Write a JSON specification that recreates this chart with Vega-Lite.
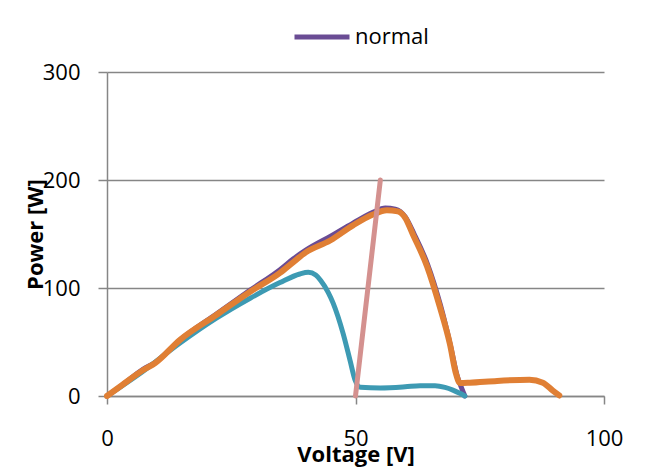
{
  "$schema": "https://vega.github.io/schema/vega-lite/v6.json",
  "width": 497,
  "height": 324,
  "autosize": {"type": "none"},
  "padding": {"left": 107, "top": 72, "right": 51, "bottom": 73},
  "background": "white",
  "config": {
    "view": {"stroke": null},
    "font": "Open Sans",
    "axis": {
      "domainColor": "#868686",
      "domainWidth": 1.5,
      "tickColor": "#868686",
      "tickWidth": 1.5,
      "tickSize": 8,
      "gridColor": "#868686",
      "gridWidth": 1.5,
      "labelFont": "Open Sans",
      "labelFontSize": 22,
      "labelColor": "#000000",
      "labelFlush": false,
      "titleFont": "Open Sans",
      "titleFontSize": 22,
      "titleFontWeight": "bold",
      "titleColor": "#000000"
    },
    "legend": {
      "labelFont": "Open Sans",
      "labelFontSize": 22,
      "labelColor": "#000000",
      "padding": 0
    }
  },
  "data": {
    "values": [
      {"series": "normal", "V": 0, "P": 0},
      {"series": "normal", "V": 3, "P": 10},
      {"series": "normal", "V": 7.3, "P": 25},
      {"series": "normal", "V": 9.7, "P": 31},
      {"series": "normal", "V": 14.7, "P": 52},
      {"series": "normal", "V": 22, "P": 76},
      {"series": "normal", "V": 28.8, "P": 98},
      {"series": "normal", "V": 34.8, "P": 117},
      {"series": "normal", "V": 37.5, "P": 127},
      {"series": "normal", "V": 40, "P": 135},
      {"series": "normal", "V": 45, "P": 148},
      {"series": "normal", "V": 49.5, "P": 160},
      {"series": "normal", "V": 53.5, "P": 170},
      {"series": "normal", "V": 56, "P": 174},
      {"series": "normal", "V": 58, "P": 173},
      {"series": "normal", "V": 60, "P": 166},
      {"series": "normal", "V": 61.8, "P": 150},
      {"series": "normal", "V": 64.5, "P": 122},
      {"series": "normal", "V": 67.1, "P": 84},
      {"series": "normal", "V": 69.1, "P": 47},
      {"series": "normal", "V": 70.5, "P": 18},
      {"series": "normal", "V": 71.3, "P": 8},
      {"series": "normal", "V": 72, "P": 0},
      {"series": "shaded", "V": 0, "P": 0},
      {"series": "shaded", "V": 7, "P": 22},
      {"series": "shaded", "V": 14.7, "P": 49},
      {"series": "shaded", "V": 22, "P": 72},
      {"series": "shaded", "V": 28.8, "P": 90.5},
      {"series": "shaded", "V": 34.8, "P": 105},
      {"series": "shaded", "V": 38.8, "P": 113},
      {"series": "shaded", "V": 40.5, "P": 114.5},
      {"series": "shaded", "V": 42, "P": 112},
      {"series": "shaded", "V": 43, "P": 107},
      {"series": "shaded", "V": 44.5, "P": 96},
      {"series": "shaded", "V": 45.5, "P": 86},
      {"series": "shaded", "V": 47.5, "P": 58},
      {"series": "shaded", "V": 48.9, "P": 33},
      {"series": "shaded", "V": 49.9, "P": 15},
      {"series": "shaded", "V": 51, "P": 8},
      {"series": "shaded", "V": 55, "P": 7.5},
      {"series": "shaded", "V": 60, "P": 8.5},
      {"series": "shaded", "V": 63, "P": 9.5},
      {"series": "shaded", "V": 66, "P": 9.5},
      {"series": "shaded", "V": 68, "P": 8},
      {"series": "shaded", "V": 69.6, "P": 5.5},
      {"series": "shaded", "V": 71, "P": 2.5},
      {"series": "shaded", "V": 72, "P": 0},
      {"series": "bypass", "V": 0, "P": 0},
      {"series": "bypass", "V": 3, "P": 10},
      {"series": "bypass", "V": 7.3, "P": 24},
      {"series": "bypass", "V": 9.7, "P": 30.5},
      {"series": "bypass", "V": 14.7, "P": 52},
      {"series": "bypass", "V": 22, "P": 75},
      {"series": "bypass", "V": 28.8, "P": 96.6},
      {"series": "bypass", "V": 34.8, "P": 114},
      {"series": "bypass", "V": 37.5, "P": 124},
      {"series": "bypass", "V": 40, "P": 133},
      {"series": "bypass", "V": 44.9, "P": 144},
      {"series": "bypass", "V": 49.5, "P": 158},
      {"series": "bypass", "V": 53.5, "P": 168},
      {"series": "bypass", "V": 56.3, "P": 172},
      {"series": "bypass", "V": 58.5, "P": 171},
      {"series": "bypass", "V": 60, "P": 165},
      {"series": "bypass", "V": 61.6, "P": 149},
      {"series": "bypass", "V": 64.4, "P": 120},
      {"series": "bypass", "V": 67, "P": 82},
      {"series": "bypass", "V": 69, "P": 48},
      {"series": "bypass", "V": 70.2, "P": 21},
      {"series": "bypass", "V": 71, "P": 12},
      {"series": "bypass", "V": 73, "P": 12.3},
      {"series": "bypass", "V": 78.5, "P": 14},
      {"series": "bypass", "V": 85, "P": 15},
      {"series": "bypass", "V": 87.7, "P": 12.3},
      {"series": "bypass", "V": 89.7, "P": 5},
      {"series": "bypass", "V": 91, "P": 0.5},
      {"series": "load", "V": 50, "P": 0},
      {"series": "load", "V": 55, "P": 200}
    ]
  },
  "encoding": {
    "x": {
      "field": "V",
      "type": "quantitative",
      "scale": {"domain": [0, 100], "nice": false},
      "axis": {
        "values": [0, 50, 100],
        "grid": false,
        "labelPadding": 24,
        "title": "Voltage [V]",
        "titleY": 65,
        "titleBaseline": "alphabetic"
      }
    },
    "y": {
      "field": "P",
      "type": "quantitative",
      "scale": {"domain": [0, 300], "nice": false},
      "axis": {
        "values": [0, 100, 200, 300],
        "grid": true,
        "tickSize": 9,
        "labelPadding": 18,
        "title": "Power [W]",
        "titleX": -65,
        "titleBaseline": "alphabetic"
      }
    }
  },
  "layer": [
    {
      "transform": [{"filter": "datum.series === 'normal'"}],
      "mark": {"type": "line", "interpolate": "monotone", "strokeWidth": 5, "strokeCap": "round"},
      "encoding": {
        "color": {
          "field": "series",
          "type": "nominal",
          "scale": {"domain": ["normal"], "range": ["#6A4C94"]},
          "legend": {
            "title": null,
            "orient": "none",
            "legendX": 185,
            "legendY": -65,
            "symbolType": "stroke",
            "symbolSize": 3025,
            "symbolStrokeWidth": 5,
            "labelOffset": 3
          }
        }
      }
    },
    {
      "transform": [{"filter": "datum.series === 'shaded'"}],
      "mark": {"type": "line", "interpolate": "monotone", "strokeWidth": 5, "strokeCap": "round", "color": "#3D9AB3"},
      "encoding": {}
    },
    {
      "transform": [{"filter": "datum.series === 'bypass'"}],
      "mark": {"type": "line", "interpolate": "monotone", "strokeWidth": 6, "strokeCap": "round", "color": "#E07F34"},
      "encoding": {}
    },
    {
      "transform": [{"filter": "datum.series === 'load'"}],
      "mark": {"type": "line", "strokeWidth": 5, "strokeCap": "round", "color": "#D4918F"},
      "encoding": {}
    }
  ]
}
